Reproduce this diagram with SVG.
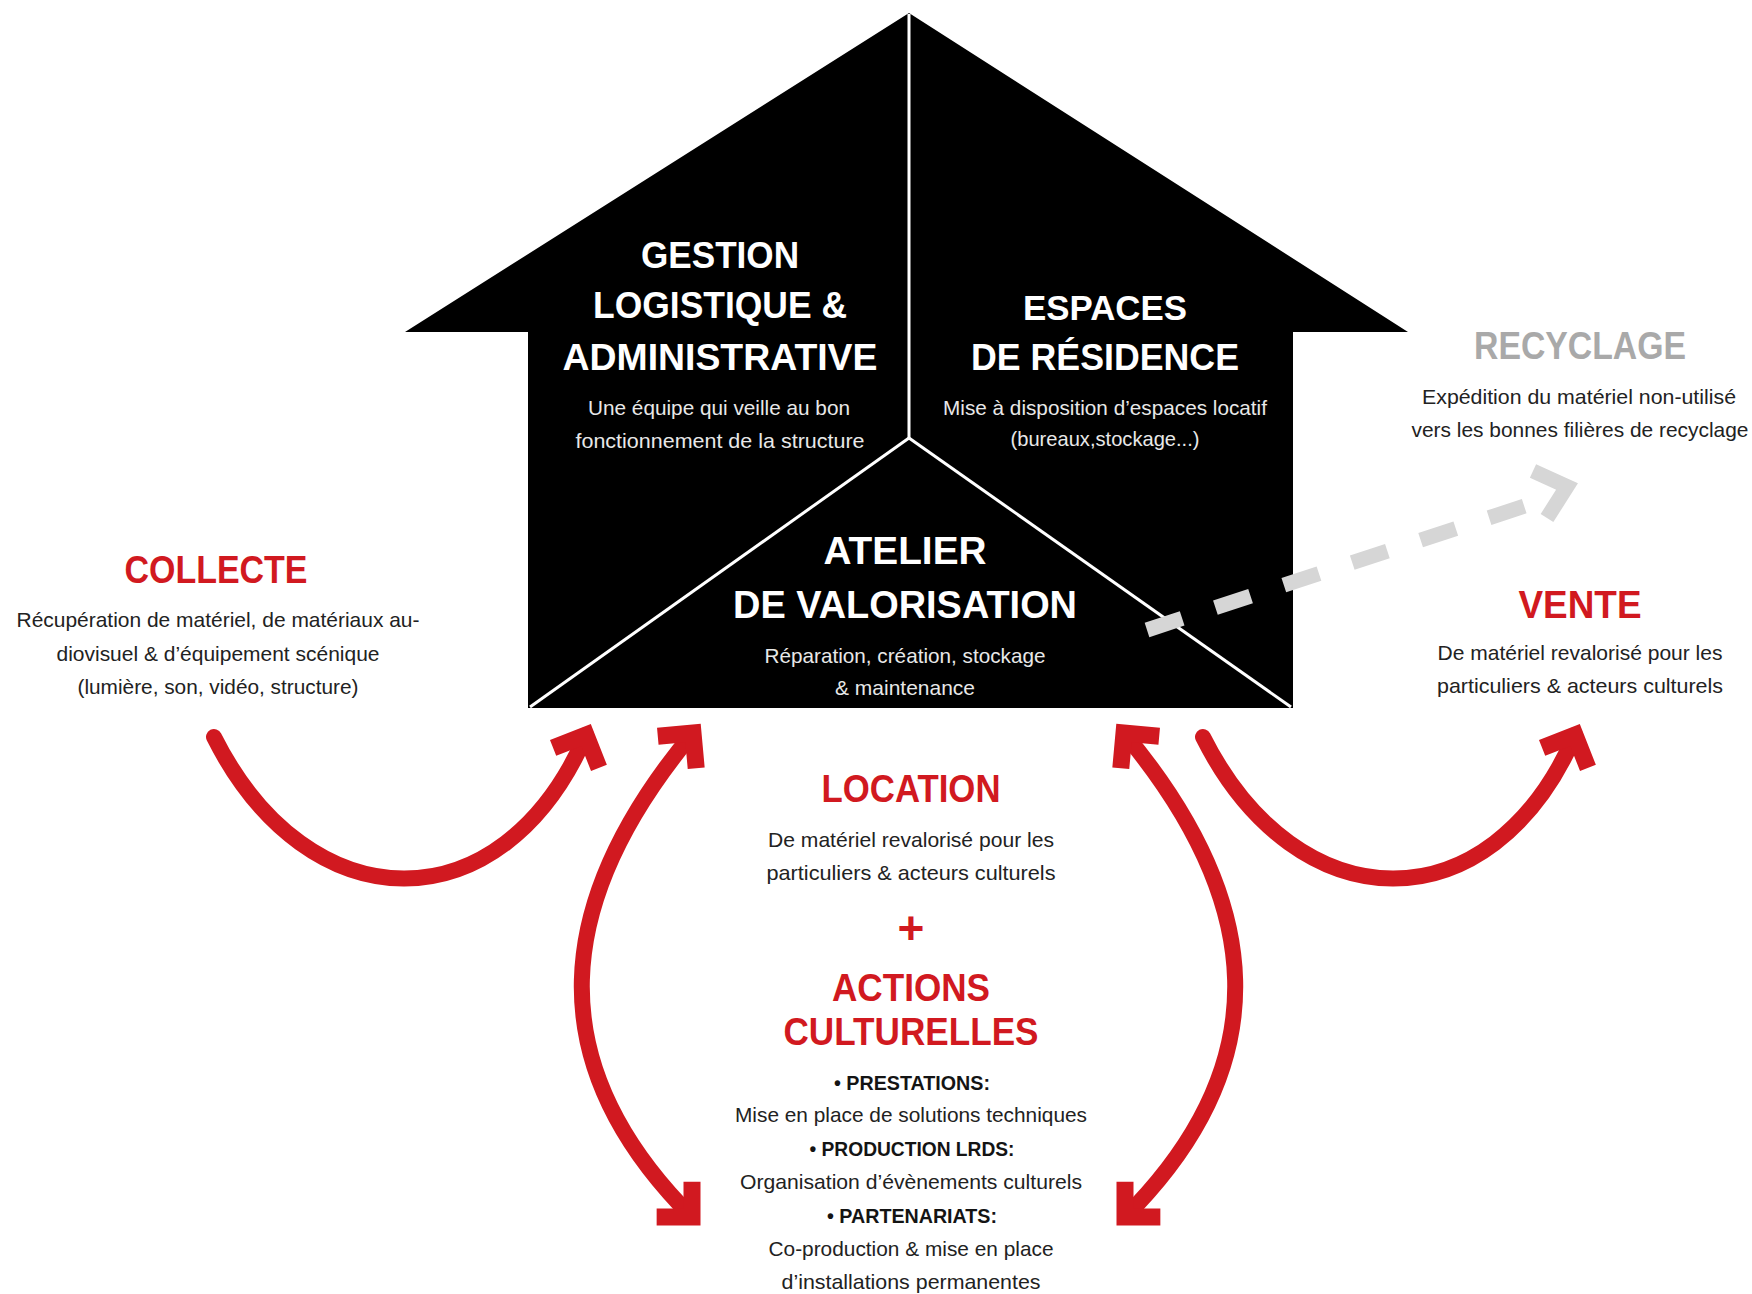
<svg xmlns="http://www.w3.org/2000/svg" width="1752" height="1294" viewBox="0 0 1752 1294">
<defs>
<style>
text{font-family:"Liberation Sans",Arial,sans-serif;text-anchor:middle}
.h{font-weight:bold;fill:#ffffff}
.hb{font-size:21px;fill:#e8e8e8}
.rt{font-weight:bold;font-size:39px;fill:#d11920}
.b{font-size:21px;fill:#222222}
.bb{font-size:21px;font-weight:bold;fill:#141414}
.sep{stroke:#ffffff;stroke-width:3;fill:none}
.arc{fill:none;stroke:#d11920;stroke-width:16;stroke-linecap:round}
</style>
<marker id="ah" markerUnits="userSpaceOnUse" markerWidth="80" markerHeight="80" viewBox="-40 -40 80 80" refX="0" refY="0" orient="auto-start-reverse" overflow="visible">
<path d="M-25,-25 L0,0 L-25,25" fill="none" stroke="#d11920" stroke-width="17" stroke-linejoin="miter" stroke-miterlimit="10"/>
</marker>
</defs>
<rect width="1752" height="1294" fill="#ffffff"/>

<g id="house">
<polygon points="405,332 909,13 1408,332 1293,332 1293,708 528,708 528,332" fill="#000000"/>
<line class="sep" x1="909" y1="14" x2="909" y2="438"/>
<line class="sep" x1="909" y1="438" x2="530" y2="707"/>
<line class="sep" x1="909" y1="438" x2="1291" y2="707"/>
</g>

<g id="node-gestion">
<text class="h" x="720" y="268" font-size="36" textLength="158" lengthAdjust="spacingAndGlyphs">GESTION</text>
<text class="h" x="720" y="318" font-size="36" textLength="254" lengthAdjust="spacingAndGlyphs">LOGISTIQUE &amp;</text>
<text class="h" x="720" y="370" font-size="37" textLength="315" lengthAdjust="spacingAndGlyphs">ADMINISTRATIVE</text>
<text class="hb" x="719" y="415" textLength="262" lengthAdjust="spacingAndGlyphs">Une équipe qui veille au bon</text>
<text class="hb" x="720" y="448" textLength="289" lengthAdjust="spacingAndGlyphs">fonctionnement de la structure</text>
</g>

<g id="node-espaces">
<text class="h" x="1105" y="320" font-size="35" textLength="164" lengthAdjust="spacingAndGlyphs">ESPACES</text>
<text class="h" x="1105" y="370" font-size="36" textLength="268" lengthAdjust="spacingAndGlyphs">DE RÉSIDENCE</text>
<text class="hb" x="1105" y="415" textLength="324" lengthAdjust="spacingAndGlyphs">Mise à disposition d’espaces locatif</text>
<text class="hb" x="1105" y="446" textLength="189" lengthAdjust="spacingAndGlyphs">(bureaux,stockage...)</text>
</g>

<g id="node-atelier">
<text class="h" x="905" y="564" font-size="38" textLength="163" lengthAdjust="spacingAndGlyphs">ATELIER</text>
<text class="h" x="905" y="618" font-size="38" textLength="344" lengthAdjust="spacingAndGlyphs">DE VALORISATION</text>
<text class="hb" x="905" y="663" textLength="281" lengthAdjust="spacingAndGlyphs">Réparation, création, stockage</text>
<text class="hb" x="905" y="695" textLength="140" lengthAdjust="spacingAndGlyphs">&amp; maintenance</text>
</g>

<g id="node-collecte">
<text class="rt" x="216" y="583" textLength="183" lengthAdjust="spacingAndGlyphs">COLLECTE</text>
<text class="b" x="218" y="627" textLength="403" lengthAdjust="spacingAndGlyphs">Récupération de matériel, de matériaux au-</text>
<text class="b" x="218" y="661" textLength="323" lengthAdjust="spacingAndGlyphs">diovisuel &amp; d’équipement scénique</text>
<text class="b" x="218" y="694" textLength="281" lengthAdjust="spacingAndGlyphs">(lumière, son, vidéo, structure)</text>
</g>

<g id="node-recyclage">
<text class="rt" x="1580" y="359" style="fill:#a9a9a9" textLength="212" lengthAdjust="spacingAndGlyphs">RECYCLAGE</text>
<text class="b" x="1579" y="404" textLength="314" lengthAdjust="spacingAndGlyphs">Expédition du matériel non-utilisé</text>
<text class="b" x="1580" y="437" textLength="337" lengthAdjust="spacingAndGlyphs">vers les bonnes filières de recyclage</text>
</g>

<g id="node-vente">
<text class="rt" x="1580" y="618" textLength="123" lengthAdjust="spacingAndGlyphs">VENTE</text>
<text class="b" x="1580" y="660" textLength="285" lengthAdjust="spacingAndGlyphs">De matériel revalorisé pour les</text>
<text class="b" x="1580" y="693" textLength="286" lengthAdjust="spacingAndGlyphs">particuliers &amp; acteurs culturels</text>
</g>

<g id="node-location">
<text class="rt" x="911" y="802" textLength="179" lengthAdjust="spacingAndGlyphs">LOCATION</text>
<text class="b" x="911" y="847" textLength="286" lengthAdjust="spacingAndGlyphs">De matériel revalorisé pour les</text>
<text class="b" x="911" y="880" textLength="289" lengthAdjust="spacingAndGlyphs">particuliers &amp; acteurs culturels</text>
<text class="rt" x="911" y="944" style="font-size:46px">+</text>
<text class="rt" x="911" y="1001" textLength="158" lengthAdjust="spacingAndGlyphs">ACTIONS</text>
<text class="rt" x="911" y="1045" textLength="255" lengthAdjust="spacingAndGlyphs">CULTURELLES</text>
<text class="bb" x="912" y="1090" textLength="156" lengthAdjust="spacingAndGlyphs">• PRESTATIONS:</text>
<text class="b" x="911" y="1122" textLength="352" lengthAdjust="spacingAndGlyphs">Mise en place de solutions techniques</text>
<text class="bb" x="912" y="1156" textLength="205" lengthAdjust="spacingAndGlyphs">• PRODUCTION LRDS:</text>
<text class="b" x="911" y="1189" textLength="342" lengthAdjust="spacingAndGlyphs">Organisation d’évènements culturels</text>
<text class="bb" x="912" y="1223" textLength="170" lengthAdjust="spacingAndGlyphs">• PARTENARIATS:</text>
<text class="b" x="911" y="1256" textLength="285" lengthAdjust="spacingAndGlyphs">Co-production &amp; mise en place</text>
<text class="b" x="911" y="1289" textLength="259" lengthAdjust="spacingAndGlyphs">d’installations permanentes</text>
</g>

<g id="connectors">
<path id="c-collecte" class="arc" d="M214,737 C308,924 502,928 586,735" marker-end="url(#ah)"/>
<path id="c-vente" class="arc" d="M1203,737 C1297,924 1491,928 1575,735" marker-end="url(#ah)"/>
<path id="c-left" class="arc" style="stroke-linecap:butt" d="M693,733 C553,901 537,1062 692,1217" marker-start="url(#ah)" marker-end="url(#ah)"/>
<path id="c-right" class="arc" style="stroke-linecap:butt" d="M1124,733 C1264,901 1280,1062 1125,1217" marker-start="url(#ah)" marker-end="url(#ah)"/>
<g id="c-recyclage">
<path d="M1147,630 L1534,503" fill="none" stroke="#d6d6d6" stroke-width="15" stroke-dasharray="37 35"/>
<path d="M1533,471 L1567,486.5 L1547,518" fill="none" stroke="#d6d6d6" stroke-width="15" stroke-linejoin="miter" stroke-miterlimit="10"/>
</g>
</g>
</svg>
